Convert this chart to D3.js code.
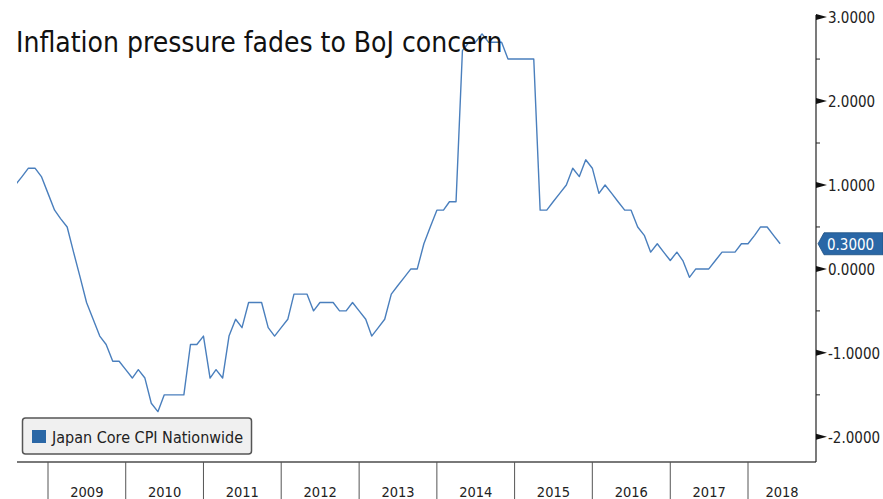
<!DOCTYPE html>
<html>
<head>
<meta charset="utf-8">
<script src="https://cdn.jsdelivr.net/npm/d3@7"></script>
<style>
  html, body { margin: 0; padding: 0; background: #fff; }
  svg { display: block; font-family: "DejaVu Sans Condensed", "DejaVu Sans", sans-serif; font-stretch: condensed; }
</style>
</head>
<body>
<svg id="chart" width="883" height="499"></svg>
<script>
// ---- data ----
const title = "Inflation pressure fades to BoJ concern";
const seriesName = "Japan Core CPI Nationwide";
const startYear = 2008, startMonth = 7; // Aug 2008 (0-based month)
const cpiValues = [
  1.0, 1.1, 1.2, 1.2, 1.1,                                   // Aug-Dec 2008
  0.9, 0.7, 0.6, 0.5, 0.2, -0.1, -0.4, -0.6, -0.8, -0.9, -1.1, -1.1, // 2009
  -1.2, -1.3, -1.2, -1.3, -1.6, -1.7, -1.5, -1.5, -1.5, -1.5, -0.9, -0.9, // 2010
  -0.8, -1.3, -1.2, -1.3, -0.8, -0.6, -0.7, -0.4, -0.4, -0.4, -0.7, -0.8, // 2011
  -0.7, -0.6, -0.3, -0.3, -0.3, -0.5, -0.4, -0.4, -0.4, -0.5, -0.5, -0.4, // 2012
  -0.5, -0.6, -0.8, -0.7, -0.6, -0.3, -0.2, -0.1, 0.0, 0.0, 0.3, 0.5,    // 2013
  0.7, 0.7, 0.8, 0.8, 2.6, 2.7, 2.7, 2.8, 2.7, 2.7, 2.7, 2.5,            // 2014
  2.5, 2.5, 2.5, 2.5, 0.7, 0.7, 0.8, 0.9, 1.0, 1.2, 1.1, 1.3,            // 2015
  1.2, 0.9, 1.0, 0.9, 0.8, 0.7, 0.7, 0.5, 0.4, 0.2, 0.3, 0.2,            // 2016
  0.1, 0.2, 0.1, -0.1, 0.0, 0.0, 0.0, 0.1, 0.2, 0.2, 0.2, 0.3,           // 2017
  0.3, 0.4, 0.5, 0.5, 0.4, 0.3                                           // 2018
];
const yearLabels = [2009, 2010, 2011, 2012, 2013, 2014, 2015, 2016, 2017, 2018];
const yMajorTicks = [-2, -1, 0, 1, 2, 3];
const yMinorTicks = [-1.5, -0.5, 0.5, 1.5, 2.5];

const data = cpiValues.map((v, i) => ({ date: new Date(startYear, startMonth + i, 1), value: v }));
const last = data[data.length - 1];

// ---- layout ----
const W = 883, H = 499;
const plot = { left: 17, right: 816, top: 15, bottom: 462 };
const lineColor = "#4a7fbd";
const tagColor = "#2a67a6";

const svg = d3.select("#chart");

// Jan 2009 sits at x=48 and Jan 2018 at x=748; extend to the plot edges
const xRef = d3.scaleTime()
  .domain([new Date(2009, 0, 1), new Date(2018, 0, 1)])
  .range([48, 748]);
const x = d3.scaleTime()
  .domain([xRef.invert(plot.left), xRef.invert(plot.right)])
  .range([plot.left, plot.right]);

const y = d3.scaleLinear().domain([-2.3, 3.025]).range([plot.bottom, plot.top]);

// clip
svg.append("defs").append("clipPath").attr("id", "clip")
  .append("rect").attr("x", plot.left).attr("y", 0)
  .attr("width", plot.right - plot.left).attr("height", plot.bottom);

// line
const line = d3.line().x(d => x(d.date)).y(d => y(d.value));
svg.append("path").datum(data)
  .attr("clip-path", "url(#clip)")
  .attr("fill", "none")
  .attr("stroke", lineColor)
  .attr("stroke-width", 1.4)
  .attr("stroke-linejoin", "round")
  .attr("d", line);

// bottom axis
svg.append("line")
  .attr("x1", plot.left).attr("x2", plot.right)
  .attr("y1", plot.bottom).attr("y2", plot.bottom)
  .attr("stroke", "#4d4d4d").attr("stroke-width", 1.5);

const years = yearLabels.map(yr => new Date(yr, 0, 1));
svg.selectAll(".ytick").data(years).enter().append("line")
  .attr("x1", d => x(d)).attr("x2", d => x(d))
  .attr("y1", plot.bottom).attr("y2", H)
  .attr("stroke", "#555").attr("stroke-width", 1);

svg.selectAll(".ylab").data(yearLabels).enter().append("text")
  .attr("x", yr => {
    const a = Math.max(x(new Date(yr, 0, 1)), plot.left);
    const b = Math.min(x(new Date(yr + 1, 0, 1)), plot.right);
    return (a + b) / 2;
  })
  .attr("y", 497)
  .attr("text-anchor", "middle")
  .attr("font-size", 14.5)
  .attr("fill", "#222")
  .text(d => d);

// right axis
svg.append("line")
  .attr("x1", plot.right).attr("x2", plot.right)
  .attr("y1", plot.top).attr("y2", plot.bottom)
  .attr("stroke", "#222").attr("stroke-width", 1.2);

svg.selectAll(".major").data(yMajorTicks).enter().append("path")
  .attr("d", d => `M${plot.right},${y(d) - 3}L${plot.right + 11},${y(d)}L${plot.right},${y(d) + 3}Z`)
  .attr("fill", "#111");

svg.selectAll(".minor").data(yMinorTicks).enter().append("line")
  .attr("x1", plot.right).attr("x2", plot.right + 4)
  .attr("y1", d => y(d)).attr("y2", d => y(d))
  .attr("stroke", "#222").attr("stroke-width", 1);

svg.selectAll(".vlab").data(yMajorTicks).enter().append("text")
  .attr("x", plot.right + 12)
  .attr("y", d => y(d) + 1)
  .attr("dy", "0.35em")
  .attr("font-size", 15)
  .attr("fill", "#222")
  .text(d => d3.format(".4f")(d).replace("−", "-"));

// last value tag
const ty = y(last.value);
svg.append("path")
  .attr("d", `M${plot.right + 2},${ty}L${plot.right + 8},${ty - 11}L${W},${ty - 11}L${W},${ty + 11}L${plot.right + 8},${ty + 11}Z`)
  .attr("fill", tagColor).attr("stroke", "#1d4f82").attr("stroke-width", 0.8);
svg.append("text")
  .attr("x", plot.right + 11).attr("y", ty + 1).attr("dy", "0.35em")
  .attr("font-size", 15).attr("fill", "#fff")
  .text(d3.format(".4f")(last.value));

// legend
const lg = svg.append("g");
lg.append("rect")
  .attr("x", 22.5).attr("y", 418).attr("width", 229).attr("height", 36)
  .attr("rx", 3).attr("fill", "#f0f0f0").attr("stroke", "#555").attr("stroke-width", 1.5);
lg.append("rect")
  .attr("x", 32).attr("y", 430).attr("width", 14).attr("height", 13)
  .attr("fill", tagColor);
lg.append("text")
  .attr("x", 52).attr("y", 437).attr("dy", "0.35em")
  .attr("font-size", 16).attr("fill", "#222")
  .text(seriesName);

// title
svg.append("text")
  .attr("x", 16).attr("y", 52)
  .attr("font-size", 28).attr("fill", "#111")
  .text(title);
</script>
</body>
</html>
